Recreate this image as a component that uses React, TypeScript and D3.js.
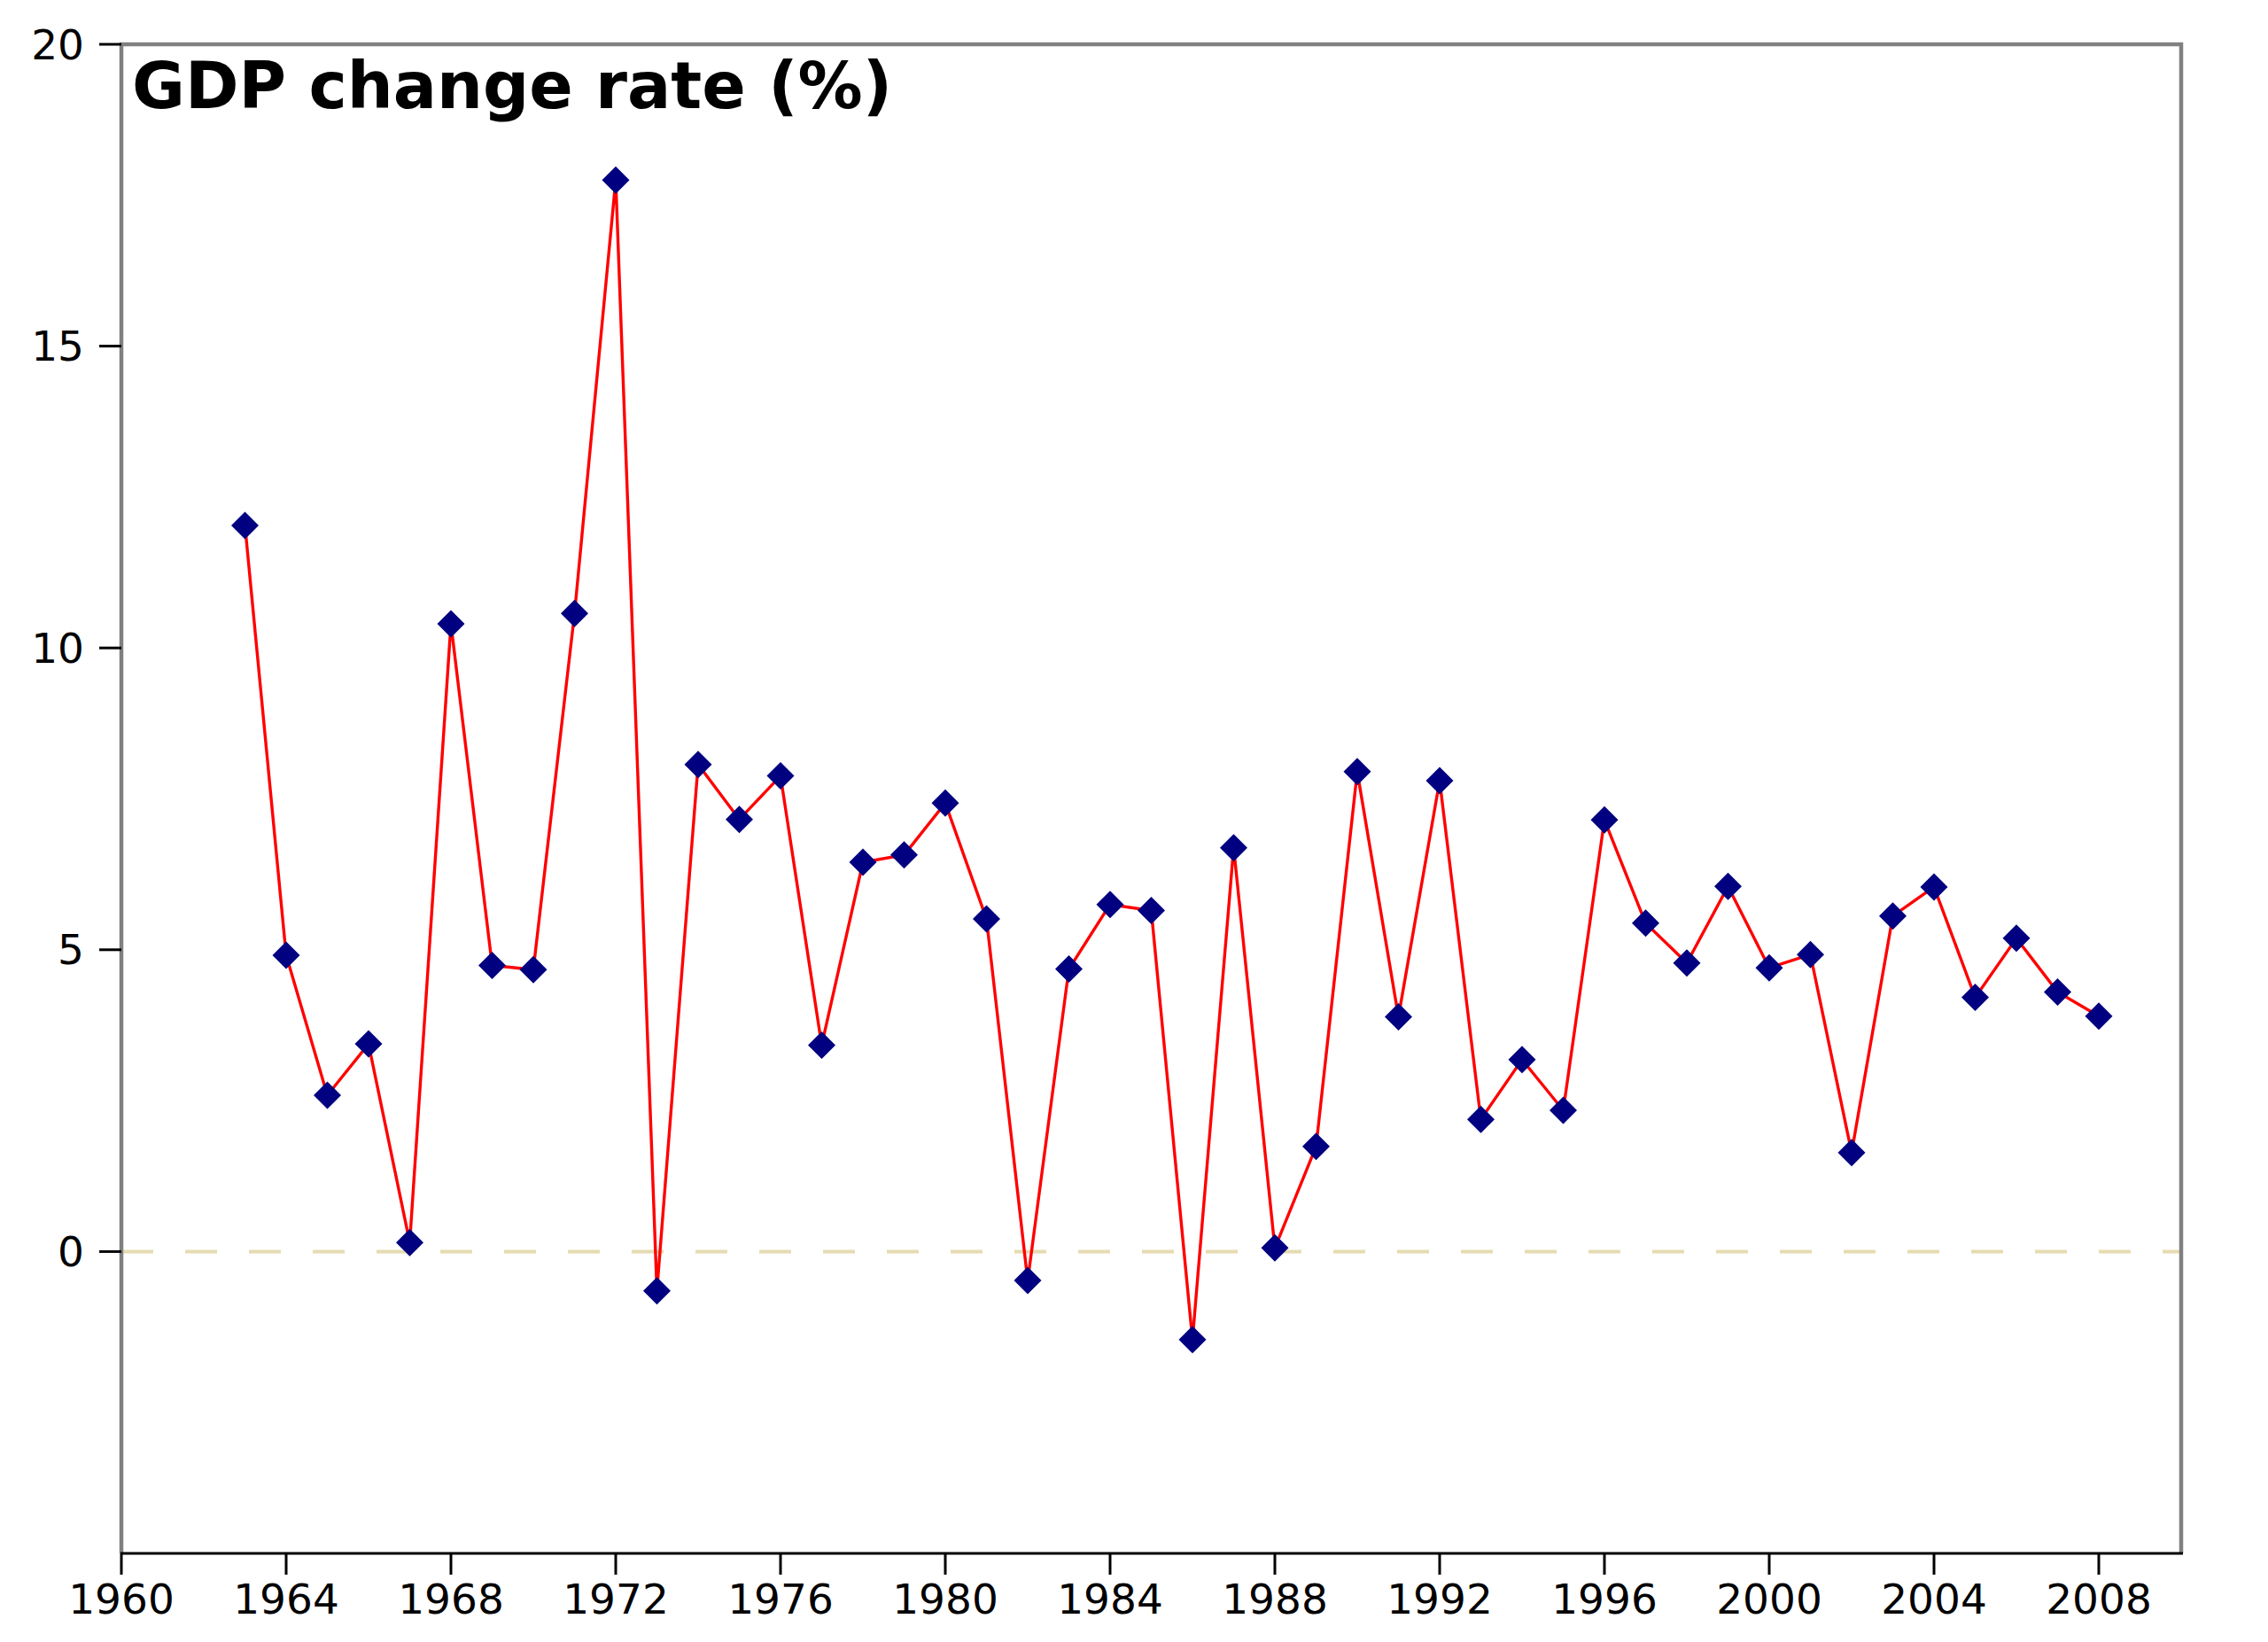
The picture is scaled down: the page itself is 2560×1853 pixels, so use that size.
import React from "react";
import * as d3 from "d3";

const years: number[] = [
  1963, 1964, 1965, 1966, 1967, 1968, 1969, 1970, 1971, 1972, 1973, 1974, 1975, 1976, 1977, 1978,
  1979, 1980, 1981, 1982, 1983, 1984, 1985, 1986, 1987, 1988, 1989, 1990, 1991, 1992, 1993, 1994,
  1995, 1996, 1997, 1998, 1999, 2000, 2001, 2002, 2003, 2004, 2005, 2006, 2007, 2008,
];
const gdpChange: number[] = [
  12.03, 4.91, 2.59, 3.44, 0.15, 10.4, 4.74, 4.67, 10.57, 17.75, -0.65, 8.07, 7.16, 7.88, 3.42, 6.45,
  6.57, 7.43, 5.51, -0.48, 4.68, 5.75, 5.65, -1.46, 6.69, 0.06, 1.74, 7.95, 3.89, 7.8, 2.19, 3.18,
  2.34, 7.15, 5.44, 4.78, 6.05, 4.7, 4.92, 1.64, 5.56, 6.04, 4.21, 5.19, 4.3, 3.9,
];
const xTicks: number[] = [1960, 1964, 1968, 1972, 1976, 1980, 1984, 1988, 1992, 1996, 2000, 2004, 2008];
const yTicks: number[] = [0, 5, 10, 15, 20];
const title = "GDP change rate (%)";

const W = 2560;
const H = 1853;
const left = 137;
const right = 2462;
const top = 50;
const bottom = 1753;
const font = "DejaVu Sans, sans-serif";

export default function App() {
  const x = d3.scaleLinear().domain([1960, 2010]).range([left, right]);
  const y = d3.scaleLinear().domain([-5, 20]).range([bottom, top]);
  const pts = years.map((yr, i) => [yr, gdpChange[i]] as [number, number]);
  const line = d3
    .line<[number, number]>()
    .x((d) => x(d[0]))
    .y((d) => y(d[1]));
  const r = 15.5;
  const diamond = (cx: number, cy: number) =>
    `M${cx},${cy - r}L${cx + r},${cy}L${cx},${cy + r}L${cx - r},${cy}Z`;

  return (
    <svg
      width={W}
      height={H}
      viewBox={`0 0 ${W} ${H}`}
      style={{ position: "absolute", left: 0, top: 0, background: "#fff" }}
    >
      <rect x={0} y={0} width={W} height={H} fill="#fff" />
      {/* zero reference line */}
      <line
        x1={left}
        x2={right}
        y1={y(0)}
        y2={y(0)}
        stroke="#e6dcb2"
        strokeWidth={4}
        strokeDasharray="36,36"
      />
      {/* data line */}
      <path d={line(pts) || ""} fill="none" stroke="#ff0000" strokeWidth={3.4} strokeLinejoin="miter" />
      {pts.map((p, i) => (
        <path key={i} d={diamond(x(p[0]), y(p[1]))} fill="#000080" />
      ))}
      {/* frame */}
      <path
        d={`M${left},${bottom}L${left},${top}L${right},${top}L${right},${bottom}`}
        fill="none"
        stroke="#808080"
        strokeWidth={4.5}
      />
      <line x1={left - 1} x2={right + 2} y1={bottom} y2={bottom} stroke="#000" strokeWidth={3} />
      {/* y ticks */}
      {yTicks.map((t) => (
        <g key={`y${t}`}>
          <line x1={left - 25} x2={left} y1={y(t)} y2={y(t)} stroke="#000" strokeWidth={3} />
          <text
            x={left - 42}
            y={y(t)}
            textAnchor="end"
            dominantBaseline="central"
            fontFamily={font}
            fontSize={47}
            fill="#000"
          >
            {t}
          </text>
        </g>
      ))}
      {/* x ticks */}
      {xTicks.map((t) => (
        <g key={`x${t}`}>
          <line x1={x(t)} x2={x(t)} y1={bottom} y2={bottom + 24} stroke="#000" strokeWidth={3} />
          <text x={x(t)} y={1821} textAnchor="middle" fontFamily={font} fontSize={47} fill="#000">
            {t}
          </text>
        </g>
      ))}
      <text x={149} y={122} fontFamily={font} fontWeight="bold" fontSize={73} fill="#000">
        {title}
      </text>
    </svg>
  );
}
